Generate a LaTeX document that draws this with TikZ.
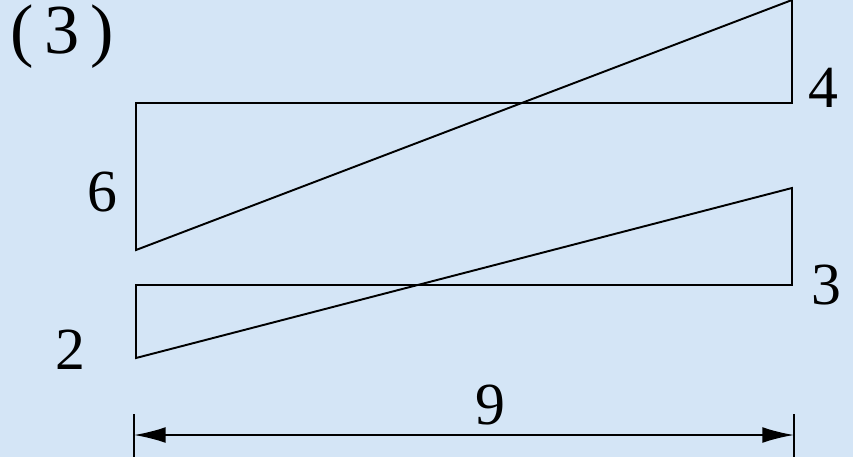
\documentclass[tikz,border=0pt]{standalone}
\usepackage{fontspec}
\setmainfont{Liberation Serif}
\usetikzlibrary{arrows.meta,positioning}
\definecolor{bgblue}{RGB}{212,229,246}
\tikzstyle{lbl} = [inner sep=0pt, font=\fontsize{34}{36}\selectfont, text=black]
\tikzstyle{edge} = [draw, line width=1.1pt, color=black]
\tikzstyle{dim} = [style={{Latex[length=18pt,width=9pt]}-{Latex[length=18pt,width=9pt]},line width=1.1pt}]

\begin{document}
\begin{tikzpicture}[x=0.02cm, y=-0.02cm]
	\fill[bgblue] (0,0) rectangle (853,457);
	\useasboundingbox (0,0) rectangle (853,457);
	\coordinate (a1) at (136,103);
	\coordinate (a2) at (792,103);
	\coordinate (a3) at (792,0);
	\coordinate (a4) at (136,250);
	\coordinate (b1) at (136,285);
	\coordinate (b2) at (792,285);
	\coordinate (b3) at (792,188);
	\coordinate (b4) at (136,358);
	\coordinate (t1) at (134,414);
	\coordinate (t2) at (134,457);
	\coordinate (t3) at (794,414);
	\coordinate (t4) at (794,457);
	\coordinate (d1) at (134,435);
	\coordinate (d2) at (794,435);
	\node[lbl, font=\fontsize{40}{42}\selectfont] (n0) at (62,37) {(\kern6pt3\kern6pt)};
	\node[lbl] (n6) at (102,192) {6};
	\node[lbl] (n4) at (823,88) {4};
	\node[lbl] (n3) at (826,285) {3};
	\node[lbl] (n2) at (70,350) {2};
	\node[lbl] (n9) at (490,405) {9};
	\draw[edge] (a1) -- (a2) -- (a3) -- (a4) -- cycle;
	\draw[edge] (b1) -- (b2) -- (b3) -- (b4) -- cycle;
	\draw[edge] (t1) -- (t2);
	\draw[edge] (t3) -- (t4);
	\draw[dim] (d1) -- (d2);
\end{tikzpicture}
\end{document}
